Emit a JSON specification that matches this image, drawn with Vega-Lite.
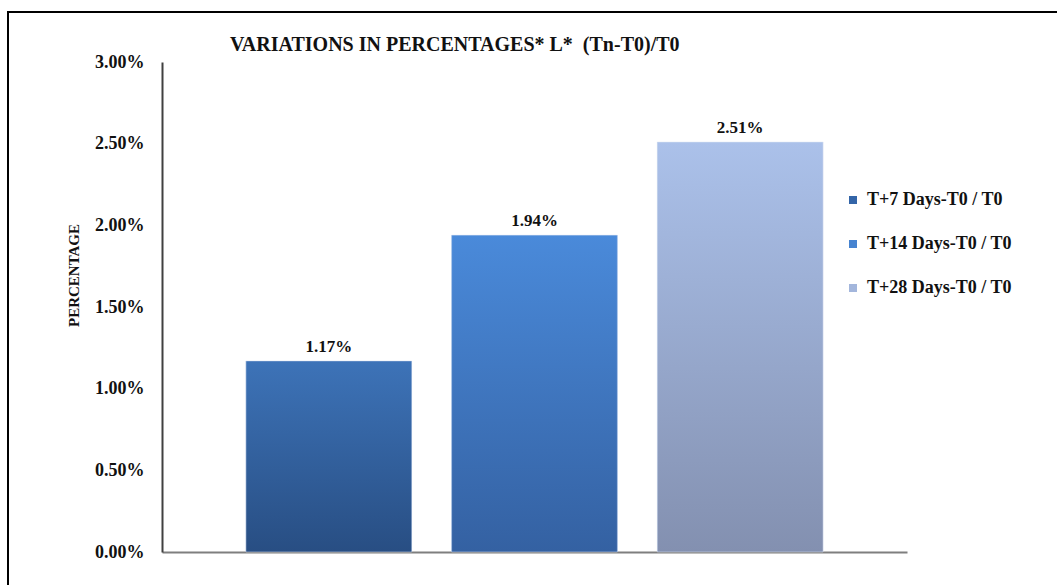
{
  "$schema": "https://vega.github.io/schema/vega-lite/v6.json",
  "autosize": "none",
  "padding": {"left": 8, "top": 12, "right": 0, "bottom": 0},
  "width": 1060,
  "height": 580,
  "background": "white",
  "config": {
    "view": {"stroke": "#000000", "strokeWidth": 2},
    "font": "Liberation Serif"
  },
  "title": {
    "text": "VARIATIONS IN PERCENTAGES* L* \u00a0(Tn-T0)/T0",
    "frame": "group",
    "anchor": "start",
    "dx": 222,
    "offset": -59,
    "baseline": "alphabetic",
    "font": "Liberation Serif",
    "fontSize": 20,
    "fontWeight": "bold",
    "color": "#111111"
  },
  "data": {
    "values": [
      {"series": "T+7 Days-T0 / T0", "pct": 0.0117},
      {"series": "T+14 Days-T0 / T0", "pct": 0.0194},
      {"series": "T+28 Days-T0 / T0", "pct": 0.0251}
    ]
  },
  "encoding": {
    "x": {
      "field": "series",
      "type": "nominal",
      "sort": null,
      "scale": {
        "domain": ["T+7 Days-T0 / T0", "T+14 Days-T0 / T0", "T+28 Days-T0 / T0"],
        "range": [154, 899],
        "paddingInner": 0.194,
        "paddingOuter": 0.408
      },
      "axis": {
        "orient": "bottom",
        "offset": -40,
        "labels": false,
        "ticks": false,
        "title": null,
        "domainColor": "#7f7f7f",
        "domainWidth": 2
      }
    },
    "y": {
      "field": "pct",
      "type": "quantitative",
      "scale": {"domain": [0, 0.03], "range": [540, 50], "nice": false, "zero": true},
      "axis": {
        "orient": "left",
        "offset": -154,
        "values": [0, 0.005, 0.01, 0.015, 0.02, 0.025, 0.03],
        "format": ".2%",
        "grid": false,
        "ticks": false,
        "labelPadding": 18,
        "labelFont": "Liberation Serif",
        "labelFontSize": 18,
        "labelFontWeight": "bold",
        "labelColor": "#111111",
        "domainColor": "#404040",
        "domainWidth": 2,
        "title": "PERCENTAGE",
        "titleFont": "Liberation Serif",
        "titleFontSize": 15,
        "titleFontWeight": "bold",
        "titleColor": "#111111",
        "titleAngle": -90,
        "titleX": -89,
        "titleY": 263,
        "titleAlign": "center",
        "titleBaseline": "middle"
      }
    }
  },
  "layer": [
    {
      "mark": {"type": "bar"},
      "encoding": {
        "color": {
          "field": "series",
          "type": "nominal",
          "sort": null,
          "scale": {
            "domain": ["T+7 Days-T0 / T0", "T+14 Days-T0 / T0", "T+28 Days-T0 / T0"],
            "range": ["#3365a8", "#4683d0", "#a3b6dc"]
          },
          "legend": {
            "title": null,
            "orient": "none",
            "legendX": 836,
            "legendY": 179,
            "symbolType": "square",
            "symbolSize": 64,
            "symbolStrokeWidth": 0,
            "symbolOpacity": 1,
            "labelFont": "Liberation Serif",
            "labelFontSize": 18,
            "labelFontWeight": "bold",
            "labelColor": "#111111",
            "labelOffset": 5,
            "rowPadding": 26,
            "labelLimit": 300
          }
        }
      }
    },
    {
      "mark": {"type": "bar", "stroke": "#dfe8f5", "strokeWidth": 1, "strokeOpacity": 0.5},
      "encoding": {
        "fill": {
          "condition": [
            {
              "test": "datum.series === 'T+7 Days-T0 / T0'",
              "value": {
                "gradient": "linear", "x1": 0, "y1": 0, "x2": 0, "y2": 1,
                "stops": [
                  {"offset": 0, "color": "#3d73b8"},
                  {"offset": 1, "color": "#284e83"}
                ]
              }
            },
            {
              "test": "datum.series === 'T+14 Days-T0 / T0'",
              "value": {
                "gradient": "linear", "x1": 0, "y1": 0, "x2": 0, "y2": 1,
                "stops": [
                  {"offset": 0, "color": "#4a8ada"},
                  {"offset": 1, "color": "#3461a2"}
                ]
              }
            }
          ],
          "value": {
            "gradient": "linear", "x1": 0, "y1": 0, "x2": 0, "y2": 1,
            "stops": [
              {"offset": 0, "color": "#abc1ea"},
              {"offset": 1, "color": "#8390b0"}
            ]
          }
        }
      }
    },
    {
      "mark": {
        "type": "text",
        "baseline": "alphabetic",
        "dy": -9,
        "font": "Liberation Serif",
        "fontSize": 17,
        "fontWeight": "bold",
        "color": "#111111"
      },
      "encoding": {
        "text": {"field": "pct", "type": "quantitative", "format": ".2%"}
      }
    }
  ]
}
